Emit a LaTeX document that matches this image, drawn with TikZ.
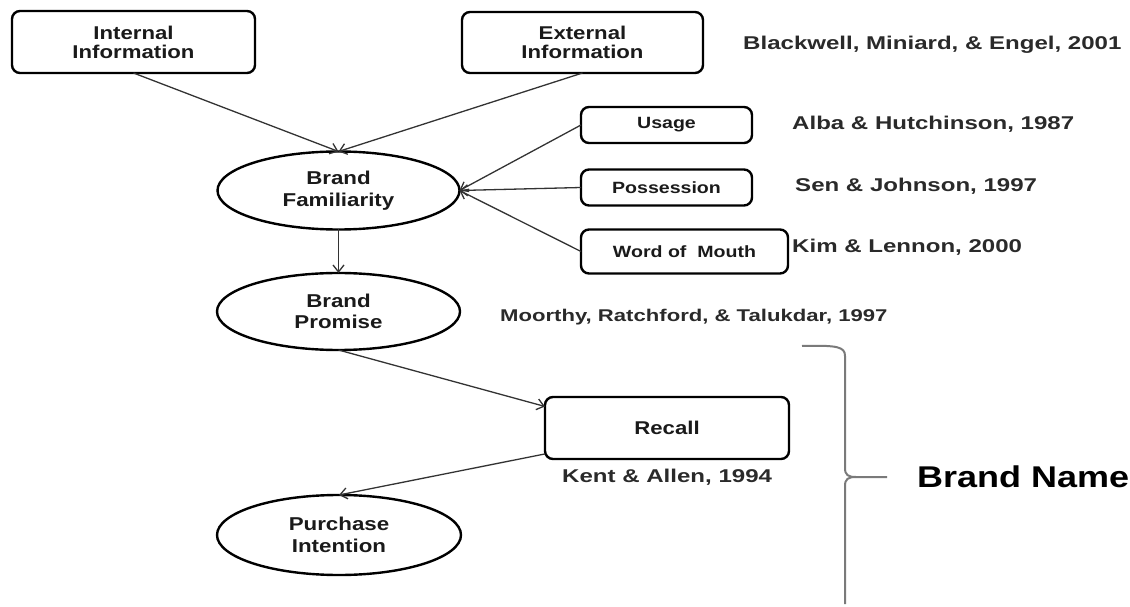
\documentclass[tikz,border=0pt]{standalone}
\usepackage{fontspec}
\setmainfont{Liberation Sans}
\newfontfamily\nodefont[FakeStretch=1.2]{Liberation Sans}
\newfontfamily\citefont[FakeStretch=1.3]{Liberation Sans}
\usetikzlibrary{shapes.geometric,arrows.meta}
\definecolor{txt}{HTML}{1A1A1A}
\definecolor{cite}{HTML}{2A2A2A}
\definecolor{conn}{HTML}{333333}
\definecolor{bracec}{HTML}{7A7A7A}
\tikzset{
  box/.style={draw=black, line width=2.4pt, rounded corners=8pt, inner sep=0pt, outer sep=0pt,
    align=center, text=txt, font=\nodefont\bfseries\fontsize{18.5}{19}\selectfont},
  smallbox/.style={box, font=\nodefont\bfseries\fontsize{16.3}{18}\selectfont},
  oval/.style={ellipse, draw=black, line width=2.4pt, inner sep=0pt, outer sep=0pt,
    align=center, text=txt, font=\nodefont\bfseries\fontsize{18.6}{21.5}\selectfont},
  citation/.style={anchor=base west, inner sep=0pt, text=cite,
    font=\citefont\bfseries\fontsize{18.5}{20}\selectfont},
  conarrow/.style={draw=conn, line width=1.3pt, -{Straight Barb[length=7pt,width=11pt]}},
  bracestyle/.style={draw=bracec, line width=2pt}
}
\begin{document}
\begin{tikzpicture}[x=1pt,y=1pt]
\useasboundingbox (0,0) rectangle (1130,606);
% boxes
\node[box, minimum width=243pt, minimum height=62pt] (int) at (133.5,564) {Internal\\Information};
\node[box, minimum width=241pt, minimum height=61pt] (ext) at (582.5,563.5) {External\\Information};
\node[smallbox, minimum width=171pt, minimum height=36pt] (use) at (666.5,481) {Usage};
\node[smallbox, minimum width=171pt, minimum height=36pt] (pos) at (666.5,418.5) {Possession};
\node[smallbox, minimum width=207pt, minimum height=44pt] (wom) at (684.5,354.5) {Word of\ \ Mouth};
\node[box, minimum width=244pt, minimum height=62pt] (rec) at (667,178) {Recall};
% ellipses
\node[oval, minimum width=242pt, minimum height=78pt] (bf) at (338.5,415.5) {Brand\\Familiarity};
\node[oval, minimum width=243pt, minimum height=77pt] (bp) at (338.5,294.5) {Brand\\Promise};
\node[oval, minimum width=244pt, minimum height=80pt] (pi) at (339,71) {Purchase\\Intention};
% citations
\node[citation] (c1) at (743,556) {Blackwell, Miniard, \& Engel, 2001};
\node[citation] (c2) at (792,476) {Alba \& Hutchinson, 1987};
\node[citation] (c3) at (795,414) {Sen \& Johnson, 1997};
\node[citation] (c4) at (792,353) {Kim \& Lennon, 2000};
\node[citation, font=\citefont\bfseries\fontsize{17}{19}\selectfont] (c5) at (500,284) {Moorthy, Ratchford, \& Talukdar, 1997};
\node[citation] (c6) at (562,124) {Kent \& Allen, 1994};
\node[anchor=base west, inner sep=0pt, text=black, font=\nodefont\bfseries\fontsize{30}{32}\selectfont] (bn) at (917,119) {Brand Name};
% connectors
\draw[conarrow] (int.south) -- (bf.north);
\draw[conarrow] (ext.south) -- (bf.north);
\draw[conarrow] (use.west) -- (bf.east);
\draw[conarrow] (pos.west) -- (bf.east);
\draw[conarrow] (wom.west) -- (bf.east);
\draw[conarrow] (bf.south) -- (bp.north);
\draw[conarrow] (bp.south) -- (rec.170);
\draw[conarrow] (rec.192) -- (pi.north);
% brace
\coordinate (btip) at (887,129);
\draw[bracestyle] (802,260) .. controls (838,261) and (845,259) .. (845,250) -- (845,138)
  .. controls (845,131) and (848,129) .. (856,129) -- (btip);
\draw[bracestyle] (856,129) .. controls (848,129) and (845,127) .. (845,120) -- (845,2);
\end{tikzpicture}
\end{document}
